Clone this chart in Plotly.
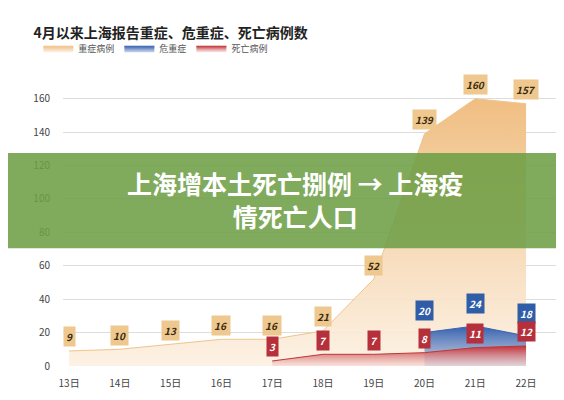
import plotly.graph_objects as go

days = [13, 14, 15, 16, 17, 18, 19, 20, 21, 22]
day_labels = ["13日", "14日", "15日", "16日", "17日", "18日", "19日", "20日", "21日", "22日"]
severe = [9, 10, 13, 16, 16, 21, 52, 139, 160, 157]
critical_days = [20, 21, 22]
critical = [20, 24, 18]
death_days = [17, 18, 19, 20, 21, 22]
deaths = [3, 7, 7, 8, 11, 12]

font = "Noto Sans CJK SC"
fig = go.Figure()
fig.add_trace(go.Scatter(x=days, y=severe, mode="lines", line=dict(color="#efc48c", width=1),
    fill="tozeroy", name="重症病例",
    fillgradient=dict(type="vertical", colorscale=[[0, "rgba(252,240,225,0.9)"], [1, "rgba(240,190,130,1)"]])))
fig.add_trace(go.Scatter(x=critical_days, y=critical, mode="lines", line=dict(color="#3a64b0", width=1),
    fill="tozeroy", name="危重症",
    fillgradient=dict(type="vertical", colorscale=[[0, "rgba(160,180,220,0.6)"], [1, "rgba(50,95,175,1)"]])))
fig.add_trace(go.Scatter(x=death_days, y=deaths, mode="lines", line=dict(color="#c0363a", width=1),
    fill="tozeroy", name="死亡病例",
    fillgradient=dict(type="vertical", colorscale=[[0, "rgba(245,215,210,0.6)"], [1, "rgba(195,50,55,1)"]])))

def lab(xs, ys, bg, fc, shift):
    for x, y in zip(xs, ys):
        fig.add_annotation(x=x, y=y, text=f"<b><i>{y}</i></b>", showarrow=False, yshift=shift,
            bgcolor=bg, font=dict(color=fc, size=10, family=font), borderpad=2)

lab(days, severe, "#eec88e", "#3a2a10", 14)
lab(critical_days, critical, "#2f5da8", "white", 22)
lab(death_days, deaths, "#b5303a", "white", 14)

# overlay banner
fig.add_shape(type="rect", xref="paper", yref="paper", x0=-0.2, x1=1.2, y0=0.415, y1=0.75,
    fillcolor="rgba(110,158,70,0.88)", line=dict(width=0), layer="above")
fig.add_annotation(xref="paper", yref="paper", x=0.47, y=0.585, showarrow=False,
    text="<b>上海增本土死亡捌例 → 上海疫<br>情死亡人口</b>", align="center",
    font=dict(color="white", size=25, family=font))

fig.update_layout(
    width=564, height=400, paper_bgcolor="white", plot_bgcolor="white",
    margin=dict(l=55, r=16, t=74, b=42),
    title=dict(text="<b>4月以来上海报告重症、危重症、死亡病例数</b>", x=0.045, y=0.95,
               font=dict(size=14, family=font, color="#222")),
    legend=dict(orientation="h", x=-0.05, y=1.17, xanchor="left", font=dict(size=9, family=font, color="#555")),
    xaxis=dict(range=[12.88, 22.59], tickvals=days, ticktext=day_labels, showgrid=False, automargin=False,
               ticklabelstandoff=10, tickfont=dict(size=10, family=font, color="#444")),
    yaxis=dict(range=[0, 170], tickvals=[0, 20, 40, 60, 80, 100, 120, 140, 160], gridcolor="#dddddd",
               automargin=False, ticklabelstandoff=12,
               tickfont=dict(size=10, family=font, color="#444"), zeroline=False),
)
fig.write_html("out.html")
